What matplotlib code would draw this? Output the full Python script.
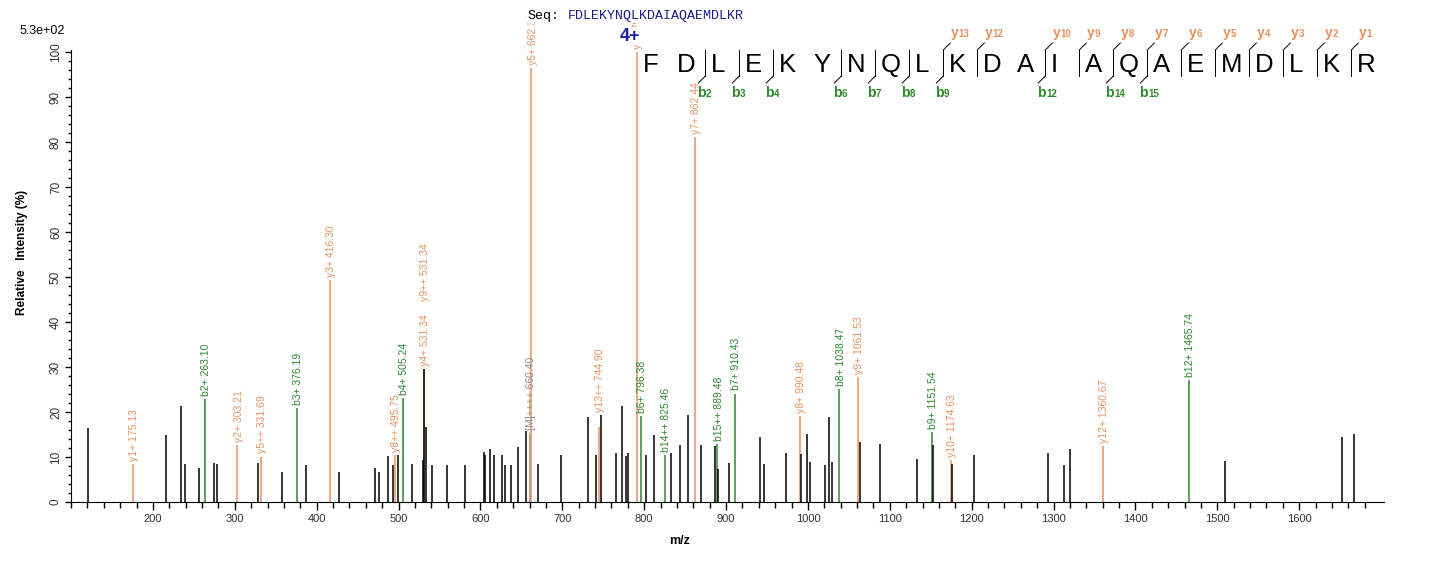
import matplotlib
matplotlib.use("Agg")
import matplotlib.pyplot as plt
from matplotlib.lines import Line2D
from matplotlib.ticker import MultipleLocator, FixedLocator
from matplotlib.transforms import offset_copy, Bbox, TransformedBbox

plt.rcParams['font.family'] = ['Liberation Sans', 'DejaVu Sans']

# unassigned peaks (m/z, relative intensity %)
peak_mz = [120.2, 216.6, 234.9, 239.8, 256.9, 275.2, 277.7, 328.1, 357.4, 387.6,
           427.9, 471.8, 476.7, 487.7, 493.8, 499.9, 517.0, 530.4, 531.6, 533.3,
           541.4, 559.7, 581.7, 604.9, 606.1, 612.2, 617.1, 626.9, 630.5, 637.9,
           645.6, 655.4, 670.9, 698.9, 731.9, 741.7, 747.8, 766.1, 773.4, 778.3,
           780.7, 802.7, 812.5, 833.2, 844.2, 854.0, 869.8, 886.9, 890.6, 904.0,
           941.9, 946.8, 973.6, 991.9, 999.3, 1002.9, 1021.3, 1026.2, 1029.8, 1063.2,
           1088.4, 1133.6, 1152.3, 1176.3, 1203.2, 1293.5, 1313.1, 1320.4, 1509.7, 1651.7,
           1667.1]
peak_int = [16.4, 14.9, 21.3, 8.4, 7.6, 8.7, 8.4, 8.7, 6.7, 8.2,
            6.7, 7.6, 6.7, 10.2, 8.2, 10.4, 8.4, 9.3, 29.5, 16.7,
            8.2, 8.2, 8.2, 11.2, 10.4, 11.8, 10.4, 10.4, 8.2, 8.2,
            12.2, 15.8, 8.4, 10.4, 18.9, 10.4, 19.3, 10.9, 21.3, 10.2,
            10.9, 10.4, 14.9, 10.9, 12.7, 19.3, 12.7, 12.4, 7.3, 8.7,
            14.4, 8.4, 10.9, 10.6, 15.1, 8.9, 8.2, 18.9, 8.9, 13.3,
            12.9, 9.6, 12.7, 8.4, 10.4, 10.9, 8.2, 11.8, 9.1, 14.4,
            15.1]

# assigned fragment ions
ion_names = ["y1+", "b2+", "y2+", "y5++", "b3+", "y3+", "y8++", "b4+", "y4+", "y9++",
             "[M]++++", "y5+", "y13++", "y6+", "b6+", "b14++", "y7+", "b15++", "b7+", "y8+",
             "b8+", "y9+", "b9+", "y10+", "y12+", "b12+"]
ion_mz = [175.13, 263.10, 303.21, 331.69, 376.19, 416.30, 495.75, 505.24, 531.34, 531.34,
          660.40, 662.38, 744.90, 791.41, 796.38, 825.46, 862.44, 889.48, 910.43, 990.48,
          1038.47, 1061.53, 1151.54, 1174.63, 1360.67, 1465.74]
ion_int = [8.4, 22.9, 12.6, 10.1, 20.9, 49.3, 10.5, 23.2, 29.5, 29.5,
           15.3, 96.4, 16.6, 100.0, 19.1, 10.4, 81.2, 12.9, 24.1, 19.1,
           25.2, 27.8, 15.6, 9.3, 12.4, 27.2]

sequence = "FDLEKYNQLKDAIAQAEMDLKR"
b_found = [2, 3, 4, 6, 7, 8, 9, 12, 14, 15]
y_found = [1, 2, 3, 4, 5, 6, 7, 8, 9, 10, 12, 13]

ORANGE = "#E8925E"
GREEN = "#2A8A2A"
GREY = "#9A8A80"

W, H = 1436, 562
fig = plt.figure(figsize=(W / 100, H / 100), dpi=100)
ax = fig.add_axes([71 / W, 60 / H, 1313 / W, 452.25 / H])

def ion_color(name):
    if name.startswith("y"):
        return ORANGE
    if name.startswith("b"):
        return GREEN
    return GREY

# coloured ions under the black peaks
for name, mz, h in zip(ion_names, ion_mz, ion_int):
    ax.vlines(mz, 0, h, color=ion_color(name), lw=1.1)
ax.vlines(peak_mz, 0, peak_int, color="black", lw=1.1)

ax.set_xlim(100, 1703.5)
ax.set_ylim(0, 100.5)
for s in ["top", "right"]:
    ax.spines[s].set_visible(False)
ax.xaxis.set_major_locator(FixedLocator(range(200, 1700, 100)))
ax.xaxis.set_minor_locator(FixedLocator([v for v in range(100, 1700, 20) if v % 100 or v == 100]))
ax.yaxis.set_major_locator(MultipleLocator(10))
ax.yaxis.set_minor_locator(MultipleLocator(2))
ax.tick_params(axis="x", which="major", length=5.5, width=1, labelsize=8, colors="black",
               labelcolor="#333333", pad=3.5)
ax.tick_params(axis="x", which="minor", length=4, width=1)
ax.tick_params(axis="y", which="major", length=4.5, width=1, labelsize=8.5,
               labelcolor="#333333", pad=2)
ax.tick_params(axis="y", which="minor", length=2.5, width=1)
for lbl in ax.get_yticklabels():
    lbl.set_rotation(90)
    lbl.set_va("center")

fig.text(22 / W, 1 - 252 / H, "Relative   Intensity (%)", rotation=90, fontsize=8.5,
         fontweight="bold", ha="center", va="center")
fig.text(680 / W, 1 - 541 / H, "m/z", fontsize=9, fontweight="bold", ha="center", va="center")
fig.text(20 / W, 1 - 34.5 / H, "5.3e+02", fontsize=9, ha="left", va="baseline")

# peak labels, clipped near the top of the figure
clip = TransformedBbox(Bbox.from_bounds(0, 0, 1, 1 - 23 / H), fig.transFigure)
stack = {}
for name, mz, h in zip(ion_names, ion_mz, ion_int):
    near = [ph for pm, ph in zip(peak_mz, peak_int) if abs(pm - mz) < 3.5]
    base = max([h] + near)
    k = stack.get(mz, 0)
    stack[mz] = k + 1
    tr = offset_copy(ax.transData, fig=fig, x=0.8, y=2.2 + 47 * k, units="points")
    t = ax.text(mz, base, f"{name} {mz:.2f}", rotation=90, ha="center", va="bottom",
                fontsize=7.5, color=ion_color(name), transform=tr, clip_on=True)
    t.set_clip_box(clip)

# sequence header
fig.text(527 / W, 1 - 19 / H, "Seq:", family="Liberation Mono", fontsize=9.6, va="baseline")
fig.text(568 / W, 1 - 19 / H, sequence, family="Liberation Mono", fontsize=9.6,
         color="#1E1E8C", va="baseline")
fig.text(620 / W, 1 - 40.7 / H, "4+", fontsize=13, fontweight="bold", color="#1C1CA8",
         va="baseline", zorder=10,
         bbox=dict(facecolor="white", edgecolor="none", pad=0.5))

def fx(px):
    return px / W

def fy(py):
    return 1 - py / H

for i, ch in enumerate(sequence):
    fig.text(fx(643 + 34 * i), fy(71.7), ch, fontsize=18.5, ha="left", va="baseline")

cuts = sorted(set(b_found) | {len(sequence) - j for j in y_found})
for k in cuts:
    sx = 637.3 + 34 * k
    fig.add_artist(Line2D([fx(sx), fx(sx)], [fy(50), fy(76)], color="black", lw=0.7))
    if k in b_found:
        fig.add_artist(Line2D([fx(sx), fx(sx - 7)], [fy(76), fy(83)], color="black", lw=0.7))
        fig.text(fx(sx - 8), fy(97.3), "b", fontsize=10, fontweight="bold", color=GREEN,
                 va="baseline")
        fig.text(fx(sx + 0.8), fy(97.3), str(k), fontsize=7, fontweight="bold", color=GREEN,
                 va="baseline")
    j = len(sequence) - k
    if j in y_found:
        fig.add_artist(Line2D([fx(sx), fx(sx + 7)], [fy(50), fy(43)], color="black", lw=0.7))
        fig.text(fx(sx + 7.5), fy(36.7), "y", fontsize=10, fontweight="bold", color=ORANGE,
                 va="baseline")
        fig.text(fx(sx + 15.5), fy(36.7), str(j), fontsize=7, fontweight="bold", color=ORANGE,
                 va="baseline")

fig.savefig("out.png", dpi=100)
